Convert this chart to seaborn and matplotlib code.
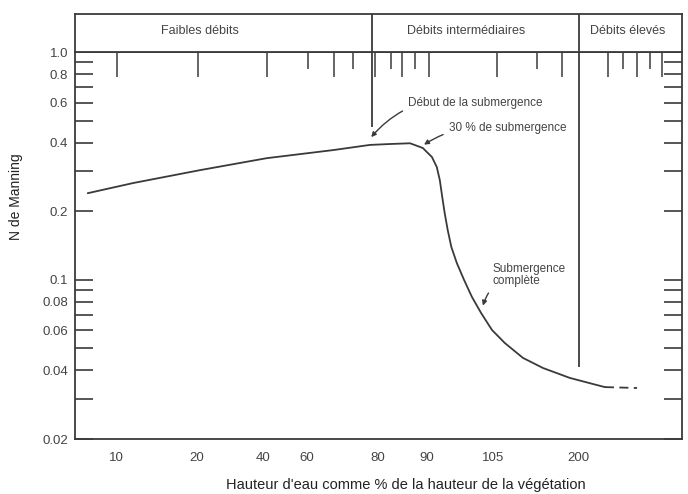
import matplotlib

matplotlib.use("Agg")
import matplotlib.pyplot as plt  # noqa: E402
import seaborn as sns  # noqa: E402
from matplotlib.ticker import NullFormatter  # noqa: E402

import pandas as pd

# x = position along the axis in % of its width (the original scale is irregular)
curve_pos = [2.1, 9.6, 20.6, 31.6, 42.5, 48.6, 51.9, 55.2, 57.3, 58.8, 59.6, 60.1,
             60.5, 60.9, 61.4, 62.0, 62.9, 64.1, 65.4, 66.9, 68.7, 70.8, 73.8,
             77.1, 81.5, 86.0, 87.3]
curve_n = [0.240, 0.266, 0.303, 0.342, 0.371, 0.391, 0.3946, 0.3975, 0.379, 0.346,
           0.3127, 0.274, 0.231, 0.1965, 0.1654, 0.1393, 0.1185, 0.0998, 0.0840,
           0.0715, 0.0602, 0.0528, 0.0454, 0.0410, 0.0371, 0.0345, 0.0338]
tail_pos = [87.3, 92.6]
tail_n = [0.0338, 0.0335]

xtick_labels = ["10", "20", "40", "60", "80", "90", "105", "200"]
xtick_label_pos = [6.9, 20.1, 31.0, 38.2, 49.8, 58.0, 68.9, 82.9]
bottom_long = [6.75, 20.1, 31.0, 42.3, 49.1, 53.2, 58.0, 68.9, 79.7, 87.6, 90.1, 96.2]
bottom_short = [38.2, 45.3, 51.2, 55.5, 75.8, 82.9, 91.9, 94.2]
top_long = [6.9, 20.3, 31.6, 42.7, 49.4, 53.9, 58.3, 69.5, 80.2, 87.8, 92.6, 96.7]
top_short = [38.4, 45.8, 52.1, 56.0, 76.1, 90.3, 94.7]

ytick_major = [1.0, 0.8, 0.6, 0.4, 0.2, 0.1, 0.08, 0.06, 0.04, 0.02]
ytick_labels = ["1.0", "0.8", "0.6", "0.4", "0.2", "0.1", "0.08", "0.06", "0.04", "0.02"]
ytick_minor = [0.9, 0.7, 0.5, 0.3, 0.09, 0.07, 0.05, 0.03]

regions = ["Faibles débits", "Débits intermédiaires", "Débits élevés"]
region_label_pos = [20.6, 64.4, 91.1]
region_edges = [48.9, 83.0]
region_line_bottom = [0.47, 0.0414]

INK = "#3a3a3a"
TXT = "#444444"

sns.set_style("white")
plt.rcParams["font.family"] = ["Liberation Sans", "DejaVu Sans"]

fig = plt.figure(figsize=(6.88, 4.94), dpi=100)
ax = fig.add_axes([0.109, 0.1113, 0.8823, 0.7834])
hdr = fig.add_axes([0.109, 0.8947, 0.8823, 0.0770])

df = pd.DataFrame({"pos": curve_pos, "n": curve_n})
sns.lineplot(data=df, x="pos", y="n", sort=False, estimator=None,
             color=INK, lw=1.3, ax=ax)
tail = pd.DataFrame({"pos": tail_pos, "n": tail_n})
sns.lineplot(data=tail, x="pos", y="n", sort=False, estimator=None,
             color=INK, lw=1.3, ax=ax, dashes=False, linestyle=(0, (5, 3)))

ax.set_yscale("log")
ax.set_xlim(0, 100)
ax.set_ylim(0.02, 1.0)

# vertical lines of the flow regions
ax.vlines(region_edges, region_line_bottom, 1.0, color=INK, lw=1.3)

for s in ax.spines.values():
    s.set_color(INK)
    s.set_linewidth(1.3)

# y ticks
ax.set_yticks(ytick_major, ytick_labels)
ax.set_yticks(ytick_minor, minor=True)
ax.yaxis.set_minor_formatter(NullFormatter())
ax.tick_params(axis="y", which="both", direction="in", length=13, width=1.2,
               color=INK, left=True, right=True, labelsize=9.5, labelcolor=TXT, pad=5)

# x ticks: long and short marks, labels on a separate axis
ax.set_xticks(bottom_long)
ax.set_xticks(bottom_short, minor=True)
ax.tick_params(axis="x", which="major", direction="in", length=17, width=1.1,
               color=INK, labelbottom=False, top=False)
ax.tick_params(axis="x", which="minor", direction="in", length=11, width=1.1,
               color=INK, top=False)

top = ax.secondary_xaxis("top")
top.set_xticks(top_long)
top.set_xticks(top_short, minor=True)
top.xaxis.set_major_formatter(NullFormatter())
top.xaxis.set_minor_formatter(NullFormatter())
top.tick_params(axis="x", which="major", direction="in", length=18, width=1.1, color=INK)
top.tick_params(axis="x", which="minor", direction="in", length=12, width=1.1, color=INK)
top.spines["top"].set_color(INK)
top.spines["top"].set_linewidth(1.3)

lab = ax.secondary_xaxis("bottom")
lab.set_xticks(xtick_label_pos, xtick_labels)
lab.tick_params(axis="x", length=0, pad=9, labelsize=9.5, labelcolor=TXT)
lab.spines["bottom"].set_visible(False)

ax.set_ylabel("N de Manning", fontsize=10, color="#222222")
ax.yaxis.set_label_coords(-0.085, 0.625)
ax.set_xlabel("Hauteur d'eau comme % de la hauteur de la végétation",
              fontsize=10.5, color="#222222")
ax.xaxis.set_label_coords(0.545, -0.1)

# annotations
arw = dict(arrowstyle="-|>", color=INK, lw=1.0, mutation_scale=7)
ax.annotate("Début de la submergence", xy=(48.8, 0.423), xytext=(54.9, 0.60),
            fontsize=8.5, color=TXT, va="center",
            arrowprops=dict(arw, connectionstyle="arc3,rad=0.3", shrinkA=2, shrinkB=0))
ax.annotate("30 % de submergence", xy=(57.5, 0.392), xytext=(61.6, 0.462),
            fontsize=8.5, color=TXT, va="center",
            arrowprops=dict(arw, connectionstyle="arc3,rad=0.2", shrinkA=2, shrinkB=0))
ax.annotate("Submergence\ncomplète", xy=(67.2, 0.077), xytext=(68.7, 0.105),
            fontsize=8.5, color=TXT, va="center", linespacing=1.1,
            arrowprops=dict(arw, connectionstyle="arc3,rad=0.4", shrinkA=2, shrinkB=0))

# header band with the flow regimes
hdr.set_xlim(0, 100)
hdr.set_ylim(0, 1)
hdr.set_xticks([])
hdr.set_yticks([])
for s in hdr.spines.values():
    s.set_color(INK)
    s.set_linewidth(1.3)
hdr.vlines(region_edges, 0, 1, color=INK, lw=1.3)
for name, xp in zip(regions, region_label_pos):
    hdr.text(xp, 0.55, name, ha="center", va="center", fontsize=9, color=TXT)

fig.savefig("out.png", dpi=100)
